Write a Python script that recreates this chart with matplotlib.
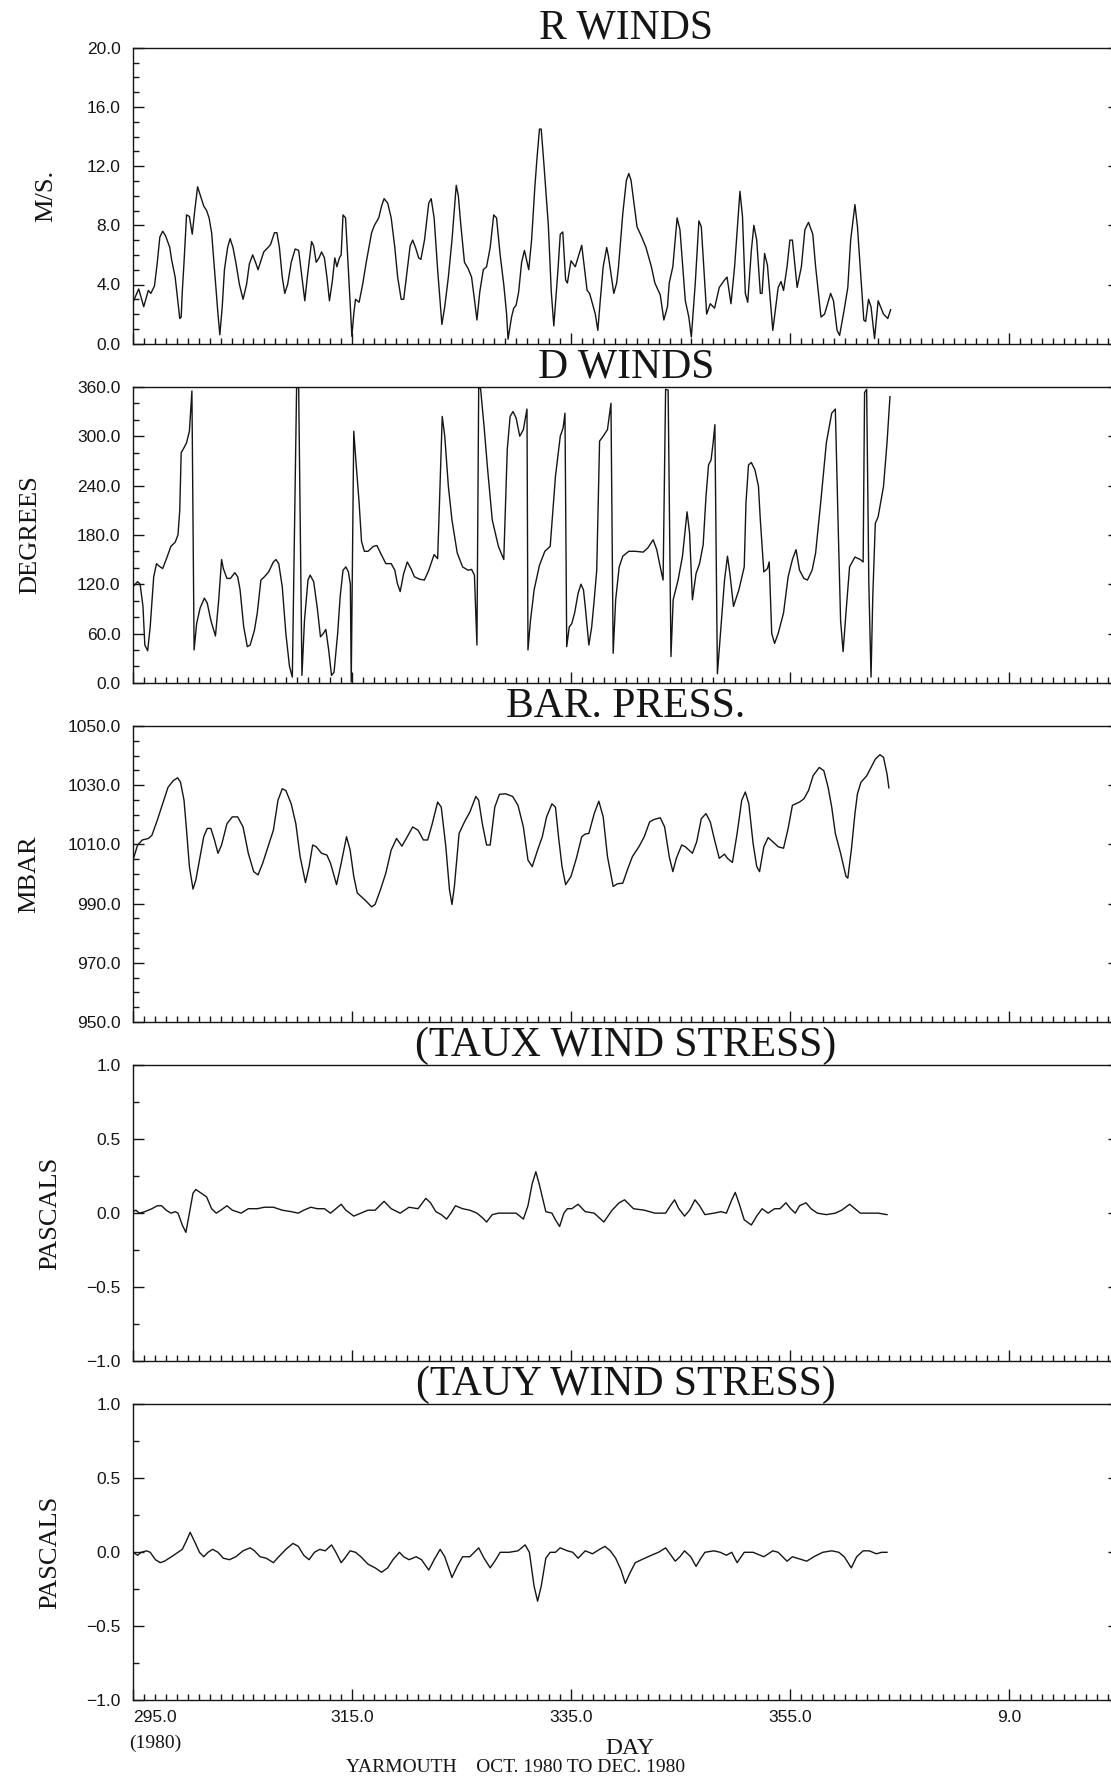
import matplotlib
matplotlib.use("Agg")
import matplotlib.pyplot as plt
from matplotlib.ticker import MultipleLocator, FixedLocator, FixedFormatter, FuncFormatter

# (day of year, value)
r_winds = [
    (295.00, 2.8), (295.52, 3.7), (295.98, 2.5), (296.40, 3.6), (296.63, 3.4), (296.96, 3.9),
    (297.22, 5.5), (297.45, 7.2), (297.71, 7.6), (297.97, 7.3), (298.36, 6.5), (298.52, 5.7),
    (298.85, 4.5), (299.08, 3.0), (299.27, 1.7), (299.40, 1.8), (299.50, 3.5), (299.66, 5.5),
    (299.89, 8.7), (300.15, 8.6), (300.41, 7.4), (300.64, 9.0), (300.90, 10.6), (301.20, 9.9),
    (301.46, 9.3), (301.72, 9.0), (301.95, 8.5), (302.18, 7.5), (302.44, 5.0), (302.76, 2.0),
    (302.93, 0.6), (303.15, 2.5), (303.35, 5.0), (303.64, 6.5), (303.87, 7.1), (304.13, 6.5),
    (304.39, 5.5), (304.72, 4.0), (305.05, 3.0), (305.37, 4.0), (305.63, 5.4), (305.93, 6.0),
    (306.19, 5.5), (306.42, 5.0), (306.68, 5.6), (306.94, 6.2), (307.33, 6.5), (307.56, 6.7),
    (307.92, 7.5), (308.14, 7.5), (308.37, 6.5), (308.63, 4.5), (308.86, 3.4), (309.12, 4.0),
    (309.45, 5.5), (309.81, 6.4), (310.13, 6.3), (310.43, 4.5), (310.69, 2.9), (310.92, 4.5),
    (311.31, 6.9), (311.50, 6.6), (311.73, 5.5), (311.99, 5.8), (312.22, 6.2), (312.48, 5.8),
    (312.71, 4.5), (312.94, 2.9), (313.20, 4.2), (313.43, 5.8), (313.62, 5.2), (313.85, 5.8),
    (314.01, 6.0), (314.18, 8.7), (314.41, 8.5), (314.67, 5.0), (314.99, 0.5), (315.16, 2.0),
    (315.32, 3.0), (315.65, 2.8), (315.97, 4.0), (316.30, 5.5), (316.79, 7.5), (317.05, 8.0),
    (317.44, 8.5), (317.70, 9.3), (317.93, 9.8), (318.26, 9.5), (318.58, 8.5), (318.91, 6.5),
    (319.17, 4.5), (319.49, 3.0), (319.72, 3.0), (320.05, 5.0), (320.31, 6.6), (320.54, 7.0),
    (320.80, 6.5), (321.09, 5.8), (321.29, 5.7), (321.62, 7.0), (322.01, 9.5), (322.23, 9.8),
    (322.50, 8.5), (322.82, 5.0), (323.21, 1.3), (323.47, 2.5), (323.80, 4.5), (324.13, 7.0),
    (324.52, 10.7), (324.71, 10.0), (324.94, 8.0), (325.27, 5.5), (325.59, 5.1), (325.92, 4.5),
    (326.18, 3.0), (326.41, 1.6), (326.67, 3.5), (326.99, 5.0), (327.29, 5.2), (327.62, 6.5),
    (327.94, 8.7), (328.20, 8.5), (328.53, 6.0), (328.86, 4.0), (329.12, 2.0), (329.25, 0.3),
    (329.57, 1.8), (329.77, 2.4), (329.99, 2.6), (330.22, 3.5), (330.49, 5.5), (330.75, 6.3),
    (331.14, 5.0), (331.40, 7.0), (331.69, 10.5), (331.89, 12.5), (332.12, 14.5), (332.28, 14.5),
    (332.54, 12.0), (332.93, 8.0), (333.20, 3.5), (333.43, 1.2), (333.81, 5.0), (334.02, 7.4),
    (334.25, 7.55), (334.51, 4.3), (334.67, 4.1), (335.00, 5.6), (335.39, 5.2), (335.98, 6.65),
    (336.47, 3.6), (336.70, 3.4), (337.22, 2.0), (337.45, 0.9), (337.67, 2.9), (337.94, 5.2),
    (338.26, 6.5), (338.42, 5.9), (338.91, 3.4), (339.17, 4.1), (339.34, 5.2), (339.73, 8.8),
    (340.06, 11.05), (340.28, 11.5), (340.48, 11.05), (341.03, 7.9), (341.46, 7.2), (341.85, 6.5),
    (342.34, 5.2), (342.66, 4.1), (343.15, 3.3), (343.48, 1.6), (343.81, 2.5), (343.97, 4.1),
    (344.30, 5.2), (344.69, 8.5), (344.95, 7.7), (345.44, 2.9), (345.76, 1.8), (345.99, 0.45),
    (346.35, 4.1), (346.68, 8.3), (346.90, 7.9), (347.39, 2.0), (347.72, 2.7), (348.11, 2.4),
    (348.54, 3.8), (349.02, 4.3), (349.25, 4.5), (349.61, 2.7), (349.94, 5.2), (350.43, 10.3),
    (350.66, 8.6), (350.92, 3.4), (351.14, 2.8), (351.47, 6.3), (351.70, 8.0), (351.96, 7.0),
    (352.29, 3.4), (352.45, 3.4), (352.68, 6.1), (352.94, 5.3), (353.43, 0.9), (353.92, 3.8),
    (354.18, 4.2), (354.41, 3.6), (354.73, 5.2), (354.99, 7.0), (355.22, 7.0), (355.65, 3.8),
    (356.04, 5.2), (356.36, 7.7), (356.69, 8.2), (357.08, 7.4), (357.34, 5.2), (357.83, 1.8),
    (358.16, 2.0), (358.71, 3.4), (358.97, 2.9), (359.30, 0.9), (359.53, 0.56), (359.95, 2.3),
    (360.28, 3.8), (360.54, 7.0), (360.93, 9.4), (361.16, 7.9), (361.74, 1.6), (361.91, 1.5),
    (362.17, 3.0), (362.40, 2.5), (362.72, 0.34), (363.05, 2.9), (363.54, 2.0), (363.93, 1.7),
    (364.19, 2.3),
]

d_winds = [
    (295.00, 117), (295.42, 123), (295.65, 120), (295.91, 93), (296.08, 46), (296.34, 39),
    (296.57, 68), (296.89, 129), (297.15, 145), (297.38, 142), (297.71, 139), (298.03, 150),
    (298.46, 166), (298.85, 171), (299.11, 180), (299.27, 210), (299.40, 280), (299.66, 286),
    (299.89, 292), (300.15, 306), (300.38, 355), (300.58, 40), (300.81, 72), (301.13, 91),
    (301.52, 103), (301.78, 97), (302.11, 76), (302.53, 57), (302.83, 101), (303.09, 150),
    (303.25, 139), (303.58, 127), (303.90, 127), (304.30, 134), (304.56, 129), (304.78, 113),
    (305.11, 68), (305.44, 44), (305.70, 46), (306.09, 64), (306.35, 85), (306.68, 125),
    (307.00, 129), (307.39, 135), (307.82, 147), (308.05, 150), (308.31, 145), (308.63, 117),
    (308.96, 60), (309.29, 20), (309.55, 7), (309.94, 359), (310.13, 359), (310.43, 9),
    (310.66, 76), (310.98, 125), (311.18, 131), (311.50, 123), (311.83, 91), (312.12, 56),
    (312.38, 60), (312.61, 65), (312.87, 40), (313.13, 9), (313.36, 13), (313.69, 60),
    (313.92, 105), (314.18, 137), (314.44, 141), (314.67, 135), (314.85, 120), (314.93, 1),
    (315.16, 306), (315.35, 271), (315.65, 219), (315.87, 172), (316.13, 160), (316.46, 160),
    (316.95, 166), (317.28, 167), (317.60, 158), (318.09, 145), (318.58, 145), (318.91, 137),
    (319.14, 121), (319.40, 111), (319.72, 133), (320.05, 147), (320.38, 139), (320.70, 129),
    (321.19, 126), (321.61, 125), (322.01, 137), (322.50, 156), (322.82, 151), (322.98, 215),
    (323.24, 324), (323.47, 300), (323.80, 239), (324.13, 198), (324.61, 158), (325.10, 141),
    (325.59, 137), (325.92, 138), (326.18, 131), (326.41, 46), (326.57, 359), (326.74, 358),
    (327.06, 312), (327.39, 259), (327.81, 198), (328.37, 166), (328.86, 150), (329.18, 284),
    (329.44, 324), (329.70, 330), (329.99, 322), (330.32, 300), (330.65, 308), (330.98, 333),
    (331.07, 40), (331.30, 76), (331.63, 113), (332.12, 143), (332.61, 160), (333.10, 166),
    (333.58, 251), (334.02, 300), (334.28, 310), (334.45, 328), (334.61, 44), (334.84, 68),
    (335.07, 72), (335.33, 85), (335.65, 109), (335.91, 120), (336.14, 113), (336.30, 93),
    (336.63, 46), (336.89, 68), (337.12, 101), (337.35, 137), (337.61, 294), (337.94, 300),
    (338.33, 308), (338.65, 340), (338.85, 36), (339.08, 101), (339.40, 141), (339.73, 154),
    (340.28, 160), (340.87, 160), (341.59, 159), (342.01, 164), (342.50, 174), (342.83, 162),
    (343.15, 141), (343.41, 125), (343.64, 357), (343.87, 356), (344.13, 32), (344.33, 101),
    (344.78, 125), (345.18, 154), (345.60, 208), (345.83, 182), (346.09, 101), (346.42, 133),
    (346.74, 145), (347.07, 168), (347.33, 227), (347.56, 265), (347.79, 271), (347.98, 292),
    (348.14, 314), (348.37, 11), (348.70, 68), (349.02, 125), (349.29, 154), (349.51, 133),
    (349.84, 93), (350.33, 113), (350.82, 141), (350.98, 219), (351.21, 265), (351.47, 268),
    (351.80, 259), (352.12, 239), (352.29, 198), (352.61, 135), (352.94, 139), (353.10, 147),
    (353.33, 60), (353.59, 48), (353.92, 60), (354.41, 85), (354.83, 129), (355.22, 150),
    (355.55, 162), (355.87, 137), (356.27, 127), (356.59, 125), (357.02, 137), (357.34, 158),
    (357.83, 223), (358.32, 292), (358.81, 328), (359.14, 333), (359.40, 190), (359.62, 76),
    (359.85, 38), (360.11, 85), (360.44, 141), (360.93, 153), (361.42, 150), (361.68, 147),
    (361.81, 353), (362.00, 357), (362.20, 120), (362.40, 7), (362.56, 105), (362.79, 194),
    (363.05, 202), (363.54, 239), (363.86, 292), (364.13, 348),
]

bar_press = [
    (295.00, 1004.7), (295.42, 1009.8), (295.85, 1011.5), (296.40, 1012.0), (296.73, 1013.1),
    (297.22, 1018.2), (297.71, 1023.7), (298.20, 1029.3), (298.69, 1031.6), (299.08, 1032.5),
    (299.34, 1031.0), (299.66, 1024.9), (299.89, 1014.8), (300.15, 1002.5), (300.48, 994.9),
    (300.74, 998.0), (301.13, 1005.9), (301.46, 1012.6), (301.78, 1015.4), (302.11, 1015.4),
    (302.44, 1011.5), (302.76, 1007.0), (303.09, 1009.8), (303.58, 1017.0), (304.07, 1019.3),
    (304.56, 1019.3), (305.05, 1015.9), (305.53, 1007.0), (306.02, 1000.8), (306.42, 999.7),
    (306.84, 1003.6), (307.33, 1009.2), (307.82, 1014.8), (308.24, 1024.9), (308.63, 1028.8),
    (308.96, 1028.2), (309.45, 1023.7), (309.87, 1017.0), (310.26, 1005.9), (310.75, 997.1),
    (311.08, 1002.5), (311.41, 1009.8), (311.73, 1009.2), (312.22, 1007.0), (312.71, 1006.4),
    (313.04, 1003.6), (313.59, 996.4), (314.01, 1003.6), (314.50, 1012.6), (314.83, 1008.1),
    (315.16, 999.2), (315.48, 993.6), (315.97, 991.9), (316.30, 990.8), (316.79, 988.9),
    (317.11, 989.7), (317.60, 994.7), (318.09, 1000.3), (318.58, 1008.1), (319.07, 1012.0),
    (319.56, 1009.4), (320.05, 1012.6), (320.54, 1015.9), (321.03, 1014.8), (321.52, 1011.5),
    (321.91, 1011.5), (322.33, 1017.0), (322.82, 1024.3), (323.15, 1022.6), (323.57, 1009.2),
    (323.90, 994.7), (324.13, 989.7), (324.35, 995.8), (324.78, 1013.7), (325.27, 1017.6),
    (325.76, 1020.9), (326.31, 1026.2), (326.57, 1024.9), (326.90, 1017.0), (327.29, 1009.8),
    (327.62, 1009.8), (328.04, 1022.6), (328.46, 1026.9), (329.02, 1027.1), (329.67, 1026.2),
    (330.16, 1023.2), (330.65, 1015.9), (331.07, 1004.7), (331.46, 1002.5), (331.95, 1008.1),
    (332.38, 1012.6), (332.77, 1019.3), (333.26, 1023.7), (333.58, 1022.6), (333.86, 1012.6),
    (334.18, 1002.5), (334.51, 996.4), (335.00, 999.2), (335.49, 1005.3), (335.98, 1012.6),
    (336.30, 1013.5), (336.63, 1013.7), (337.12, 1020.4), (337.54, 1024.6), (337.94, 1019.3),
    (338.33, 1005.9), (338.85, 995.8), (339.24, 996.7), (339.73, 996.9), (340.15, 1001.4),
    (340.61, 1005.9), (341.20, 1009.2), (341.69, 1012.6), (342.18, 1017.6), (342.57, 1018.4),
    (343.15, 1019.0), (343.55, 1015.9), (343.97, 1005.9), (344.30, 1000.8), (344.62, 1005.3),
    (345.11, 1009.8), (345.44, 1009.2), (346.09, 1007.0), (346.48, 1010.9), (346.90, 1018.7),
    (347.33, 1020.4), (347.72, 1017.6), (348.11, 1011.5), (348.54, 1005.3), (349.02, 1006.7),
    (349.29, 1005.3), (349.74, 1003.9), (350.17, 1013.7), (350.59, 1024.9), (350.92, 1027.7),
    (351.24, 1023.7), (351.63, 1010.3), (351.96, 1002.5), (352.22, 1000.8), (352.61, 1009.2),
    (353.00, 1012.3), (353.43, 1010.9), (353.92, 1009.2), (354.41, 1008.7), (354.83, 1015.4),
    (355.22, 1023.2), (355.87, 1024.3), (356.27, 1025.4), (356.69, 1028.2), (357.11, 1033.2),
    (357.67, 1036.0), (358.09, 1034.9), (358.48, 1029.3), (358.81, 1022.6), (359.14, 1013.7),
    (359.62, 1007.0), (360.11, 999.2), (360.28, 998.6), (360.60, 1008.1), (360.93, 1020.4),
    (361.16, 1027.1), (361.48, 1031.0), (362.01, 1033.2), (362.40, 1036.0), (362.79, 1038.8),
    (363.21, 1040.3), (363.54, 1039.4), (363.86, 1033.8), (364.03, 1029.1),
]

taux = [
    (295.00, 0.01), (295.26, 0.02), (295.59, 0.00), (296.08, 0.01), (296.73, 0.03), (297.22, 0.05),
    (297.61, 0.05), (298.03, 0.02), (298.46, 0.00), (298.85, 0.01), (299.11, 0.00), (299.50, -0.08),
    (299.83, -0.13), (300.15, 0.00), (300.48, 0.135), (300.74, 0.16), (301.13, 0.14), (301.72, 0.11),
    (302.18, 0.03), (302.60, 0.00), (303.02, 0.02), (303.58, 0.05), (304.07, 0.02), (304.88, 0.00),
    (305.53, 0.03), (306.35, 0.03), (307.00, 0.04), (307.82, 0.04), (308.63, 0.02), (309.45, 0.01),
    (310.10, 0.00), (310.59, 0.02), (311.24, 0.04), (311.83, 0.03), (312.48, 0.03), (313.04, 0.00),
    (313.53, 0.03), (314.01, 0.06), (314.44, 0.02), (315.16, -0.02), (315.81, 0.00), (316.46, 0.02),
    (317.11, 0.02), (317.93, 0.08), (318.58, 0.03), (319.40, 0.00), (320.21, 0.04), (321.03, 0.03),
    (321.74, 0.10), (322.17, 0.07), (322.66, 0.01), (323.15, -0.01), (323.64, -0.04), (324.03, 0.00),
    (324.45, 0.05), (325.10, 0.03), (325.76, 0.02), (326.41, 0.00), (326.90, -0.03), (327.29, -0.06),
    (327.81, -0.01), (328.37, 0.00), (329.18, 0.00), (329.99, 0.00), (330.65, -0.04), (331.07, 0.05),
    (331.46, 0.20), (331.79, 0.28), (332.12, 0.19), (332.70, 0.01), (333.26, 0.00), (333.58, -0.045),
    (333.96, -0.09), (334.35, 0.00), (334.67, 0.03), (335.07, 0.03), (335.65, 0.06), (336.30, 0.01),
    (337.12, 0.00), (338.00, -0.06), (338.75, 0.02), (339.40, 0.07), (339.89, 0.09), (340.71, 0.03),
    (341.69, 0.02), (342.66, 0.00), (343.64, 0.00), (344.07, 0.05), (344.46, 0.09), (344.85, 0.03),
    (345.37, -0.02), (345.83, 0.02), (346.32, 0.09), (346.74, 0.05), (347.23, -0.01), (348.05, 0.00),
    (348.70, 0.01), (349.19, 0.00), (349.68, 0.09), (350.00, 0.14), (350.33, 0.07), (350.82, -0.045),
    (351.47, -0.08), (351.96, -0.02), (352.45, 0.03), (353.00, 0.00), (353.59, 0.03), (354.08, 0.03),
    (354.63, 0.07), (355.06, 0.03), (355.48, 0.00), (355.87, 0.05), (356.46, 0.07), (356.92, 0.03),
    (357.50, 0.00), (358.32, -0.01), (359.14, 0.00), (359.72, 0.02), (360.44, 0.06), (360.93, 0.03),
    (361.42, 0.00), (362.23, 0.00), (363.05, 0.00), (363.86, -0.01),
]

tauy = [
    (295.00, 0.00), (295.42, -0.02), (295.75, 0.00), (296.24, 0.01), (296.57, 0.00), (297.05, -0.05),
    (297.48, -0.07), (297.87, -0.06), (298.52, -0.03), (299.11, 0.00), (299.50, 0.02), (299.83, 0.07),
    (300.22, 0.135), (300.64, 0.07), (301.07, 0.00), (301.46, -0.03), (301.85, 0.00), (302.27, 0.02),
    (302.76, 0.00), (303.25, -0.04), (303.81, -0.05), (304.39, -0.03), (305.05, 0.01), (305.70, 0.03),
    (306.09, 0.01), (306.61, -0.03), (307.17, -0.04), (307.82, -0.07), (308.31, -0.03), (308.96, 0.02),
    (309.61, 0.06), (310.10, 0.04), (310.59, -0.02), (311.08, -0.05), (311.57, 0.00), (312.06, 0.02),
    (312.55, 0.01), (313.13, 0.05), (313.53, 0.00), (314.01, -0.07), (314.34, -0.04), (314.83, 0.01),
    (315.32, 0.00), (315.81, -0.03), (316.46, -0.08), (317.11, -0.105), (317.70, -0.135), (318.26, -0.105),
    (318.74, -0.05), (319.33, 0.00), (319.72, -0.03), (320.21, -0.05), (320.86, -0.03), (321.35, -0.05),
    (322.01, -0.12), (322.50, -0.05), (323.05, 0.02), (323.47, -0.03), (324.13, -0.17), (324.61, -0.095),
    (325.10, -0.03), (325.76, -0.03), (326.57, 0.03), (327.06, -0.04), (327.62, -0.105), (328.04, -0.06),
    (328.53, 0.00), (329.34, 0.00), (330.16, 0.01), (330.81, 0.05), (331.20, 0.00), (331.63, -0.23),
    (331.95, -0.33), (332.28, -0.23), (332.70, -0.04), (333.10, 0.00), (333.58, 0.00), (334.01, 0.03),
    (334.67, 0.01), (335.16, 0.00), (335.65, -0.04), (336.30, 0.01), (336.96, -0.01), (337.61, 0.02),
    (338.10, 0.04), (338.59, 0.01), (339.08, -0.04), (339.57, -0.12), (339.96, -0.21), (340.38, -0.14),
    (340.87, -0.07), (341.59, -0.045), (342.34, -0.02), (342.99, 0.00), (343.64, 0.03), (344.13, -0.02),
    (344.52, -0.06), (344.95, -0.03), (345.37, 0.01), (345.93, -0.03), (346.42, -0.095), (346.82, -0.045),
    (347.23, 0.00), (348.05, 0.01), (348.63, 0.00), (349.19, -0.02), (349.68, 0.00), (350.17, -0.07),
    (350.82, 0.00), (351.63, 0.00), (352.61, -0.03), (353.43, 0.01), (353.92, 0.00), (354.73, -0.06),
    (355.22, -0.03), (355.87, -0.045), (356.53, -0.06), (357.18, -0.03), (357.99, 0.00), (358.81, 0.01),
    (359.46, 0.00), (359.95, -0.03), (360.60, -0.105), (361.09, -0.03), (361.68, 0.01), (362.23, 0.01),
    (362.89, -0.01), (363.38, 0.00), (363.86, 0.00),
]

titles = ["R WINDS", "D WINDS", "BAR. PRESS.", "(TAUX WIND STRESS)", "(TAUY WIND STRESS)"]
ylabels = ["M/S.", "DEGREES", "MBAR", "PASCALS", "PASCALS"]
series = [r_winds, d_winds, bar_press, taux, tauy]
ylims = [(0, 20), (0, 360), (950, 1050), (-1, 1), (-1, 1)]
yticks = [
    [0, 4, 8, 12, 16, 20],
    [0, 60, 120, 180, 240, 300, 360],
    [950, 970, 990, 1010, 1030, 1050],
    [-1, -0.5, 0, 0.5, 1],
    [-1, -0.5, 0, 0.5, 1],
]
yminor = [1, 20, 5, 0.25, 0.25]
ylabel_x = [46, 30, 29, 50, 50]   # label centre, px from left

x_major = [295, 315, 335, 355, 375]
x_labels = ["295.0", "315.0", "335.0", "355.0", "9.0"]

SERIF = "Liberation Serif"
SANS = "Liberation Sans"
W, H = 1111.0, 1778.0
ink = "#151515"

fig = plt.figure(figsize=(11.11, 17.78), dpi=100)

for i in range(5):
    top = 47.7 + 339.15 * i
    ax = fig.add_axes([133 / W, 1 - (top + 296) / H, 985.5 / W, 296 / H])
    days = [p[0] for p in series[i]]
    vals = [p[1] for p in series[i]]
    ax.plot(days, vals, color=ink, lw=1.0)

    ax.set_xlim(295, 385)
    ax.set_ylim(*ylims[i])
    ax.xaxis.set_major_locator(FixedLocator(x_major))
    ax.xaxis.set_minor_locator(MultipleLocator(1))
    ax.yaxis.set_major_locator(FixedLocator(yticks[i]))
    ax.yaxis.set_minor_locator(MultipleLocator(yminor[i]))
    ax.yaxis.set_major_formatter(FuncFormatter(lambda v, p: f"{v:.1f}".replace("-", "\u2212")))
    if i == 4:
        ax.xaxis.set_major_formatter(FixedFormatter(x_labels))
    else:
        ax.xaxis.set_major_formatter(FixedFormatter([""] * len(x_labels)))

    ax.tick_params(which="both", direction="in", top=False, right=True, color=ink, width=1.0)
    ax.tick_params(which="major", length=8, pad=9, labelsize=12.5, labelcolor=ink)
    ax.tick_params(axis="x", which="major", pad=7)
    ax.tick_params(which="minor", length=4.5)
    for lab in ax.get_yticklabels() + ax.get_xticklabels():
        lab.set_fontfamily(SANS)
    for s in ax.spines.values():
        s.set_linewidth(1.0)
        s.set_color(ink)

    ax.set_title(titles[i], fontfamily=SERIF, fontsize=30, pad=6, color=ink)
    fig.text(ylabel_x[i] / W, 1 - (top + 148) / H, ylabels[i], rotation=90,
             ha="center", va="center", fontfamily=SERIF, fontsize=19, color=ink)

    if i == 4:
        ax.get_xticklabels()[0].set_ha("left")

fig.text(129 / W, 1 - 1743 / H, "(1980)", ha="left", va="center",
         fontfamily=SERIF, fontsize=14, color=ink)
fig.text(630 / W, 1 - 1749 / H, "DAY", ha="center", va="center",
         fontfamily=SERIF, fontsize=17, color=ink)
fig.text(516 / W, 1 - 1768 / H, "YARMOUTH    OCT. 1980 TO DEC. 1980", ha="center", va="center",
         fontfamily=SERIF, fontsize=14, color=ink)

fig.savefig("out.png", dpi=100)
